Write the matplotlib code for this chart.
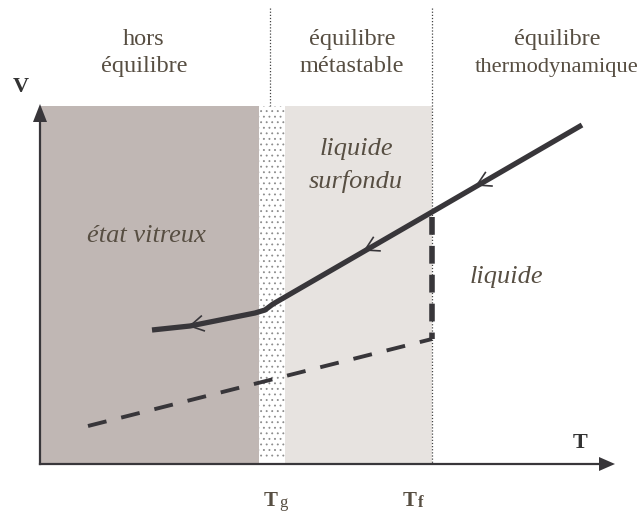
import numpy as np
import matplotlib
matplotlib.use("Agg")
import matplotlib.pyplot as plt
from matplotlib.patches import Rectangle, Polygon

plt.rcParams['font.family'] = ['Liberation Serif', 'DejaVu Serif']
plt.rcParams['hatch.linewidth'] = 0.6

# --- diagram geometry (pixel-like coordinates, y grows downward) ---
X0, X_END = 40, 615          # T axis
Y0, Y_END = 464, 106         # V axis
TG_LO, TG_HI = 259, 285      # glass transition band
TG_LINE = 270
TF = 432

# cooling curve of the liquid -> glass
curve_T = [152, 190, 230, 255, 265, 273, 432, 582]
curve_V = [330, 326, 318, 313, 310, 304, 212, 125]
# crystal branch (dashed)
cryst_T = [88, 432]
cryst_V = [426, 339]
# jump at the melting point
jump_V = [217, 339]
# arrow tips on the curve
arrows = [(477, 185), (365, 250), (190, 326)]

txt_col = "#574e42"
ln_col = "#38363a"

fig = plt.figure(figsize=(6.42, 5.13), dpi=100)
ax = fig.add_axes([0, 0, 1, 1])
ax.set_xlim(0, 642)
ax.set_ylim(513, 0)
ax.axis("off")

# background zones
ax.add_patch(Rectangle((X0, Y_END), TG_LO - X0, Y0 + 1 - Y_END, fc="#c0b7b4", ec="none", zorder=0))
ax.add_patch(Rectangle((TG_HI, Y_END), TF - TG_HI, Y0 + 1 - Y_END, fc="#e7e3e0", ec="none", zorder=0))
ax.add_patch(Rectangle((TG_LO, Y_END), TG_HI - TG_LO, Y0 - 4 - Y_END, fc="white", ec="#8c8c8c",
                       hatch="...", lw=0, zorder=0))

# dotted separators
ax.plot([TG_LINE, TG_LINE], [8, Y_END], ls=(0, (1, 1.5)), color="#444444", lw=0.9, zorder=1)
ax.plot([TF, TF], [8, Y0], ls=(0, (1, 1.5)), color="#444444", lw=0.9, zorder=1)

# axes with filled arrow heads
ax.plot([X0, X0], [Y0, Y_END + 10], color=ln_col, lw=1.6, zorder=3)
ax.plot([X0, X_END - 12], [Y0, Y0], color=ln_col, lw=1.6, zorder=3)
ax.add_patch(Polygon([[X0 - 7, Y_END + 16], [X0 + 7, Y_END + 16], [X0, Y_END - 2]], closed=True,
                     fc=ln_col, ec="none", zorder=3))
ax.add_patch(Polygon([[X_END - 16, Y0 - 7], [X_END - 16, Y0 + 7], [X_END, Y0]], closed=True,
                     fc=ln_col, ec="none", zorder=3))

# curves
ax.plot(curve_T, curve_V, color=ln_col, lw=3.8, solid_capstyle="butt", solid_joinstyle="round", zorder=4)
ax.plot(cryst_T, cryst_V, color=ln_col, lw=2.8, ls=(0, (4.9, 3.9)), zorder=4)
ax.plot([TF, TF], jump_V, color=ln_col, lw=4, ls=(0, (3.2, 2.0)), zorder=4)

# open chevrons pointing along the cooling direction
for tx, ty in arrows:
    vx = np.interp(tx + 10, curve_T, curve_V)
    ang = np.arctan2(vx - ty, 10)
    for d in (np.pi / 6, -np.pi / 6):
        ax.plot([tx, tx + 15 * np.cos(ang + d)], [ty, ty + 15 * np.sin(ang + d)],
                color=ln_col, lw=1.2, zorder=5)

# zone titles
fs_top = 17.5
for xc, l1, l2, fs2 in [(144, "hors", "équilibre", fs_top), (352, "équilibre", "métastable", fs_top),
                        (557, "équilibre", "thermodynamique", 16.2)]:
    ax.text(xc, 45, l1, ha="center", va="baseline", fontsize=fs_top, color=txt_col)
    ax.text(xc, 72, l2, ha="center", va="baseline", fontsize=fs2, color=txt_col)

# states
ax.text(146, 242, "état vitreux", ha="center", va="baseline", fontsize=19, style="italic", color=txt_col)
ax.text(356, 155, "liquide", ha="center", va="baseline", fontsize=19, style="italic", color=txt_col)
ax.text(356, 188, "surfondu", ha="center", va="baseline", fontsize=19, style="italic", color=txt_col)
ax.text(506, 283, "liquide", ha="center", va="baseline", fontsize=19, style="italic", color=txt_col)

# axis labels
ax.text(21, 92, "V", ha="center", va="baseline", fontsize=16, fontweight="bold", color="#333333")
ax.text(580, 448, "T", ha="center", va="baseline", fontsize=16, fontweight="bold", color="#333333")
ax.text(271, 506, "T", ha="center", va="baseline", fontsize=15, fontweight="bold", color=txt_col)
ax.text(279, 507, "g", ha="left", va="baseline", fontsize=12, color=txt_col)
ax.text(410, 506, "T", ha="center", va="baseline", fontsize=15, fontweight="bold", color=txt_col)
ax.text(418, 507, "f", ha="left", va="baseline", fontsize=12, fontweight="bold", color=txt_col)

fig.savefig("out.png", dpi=100)
